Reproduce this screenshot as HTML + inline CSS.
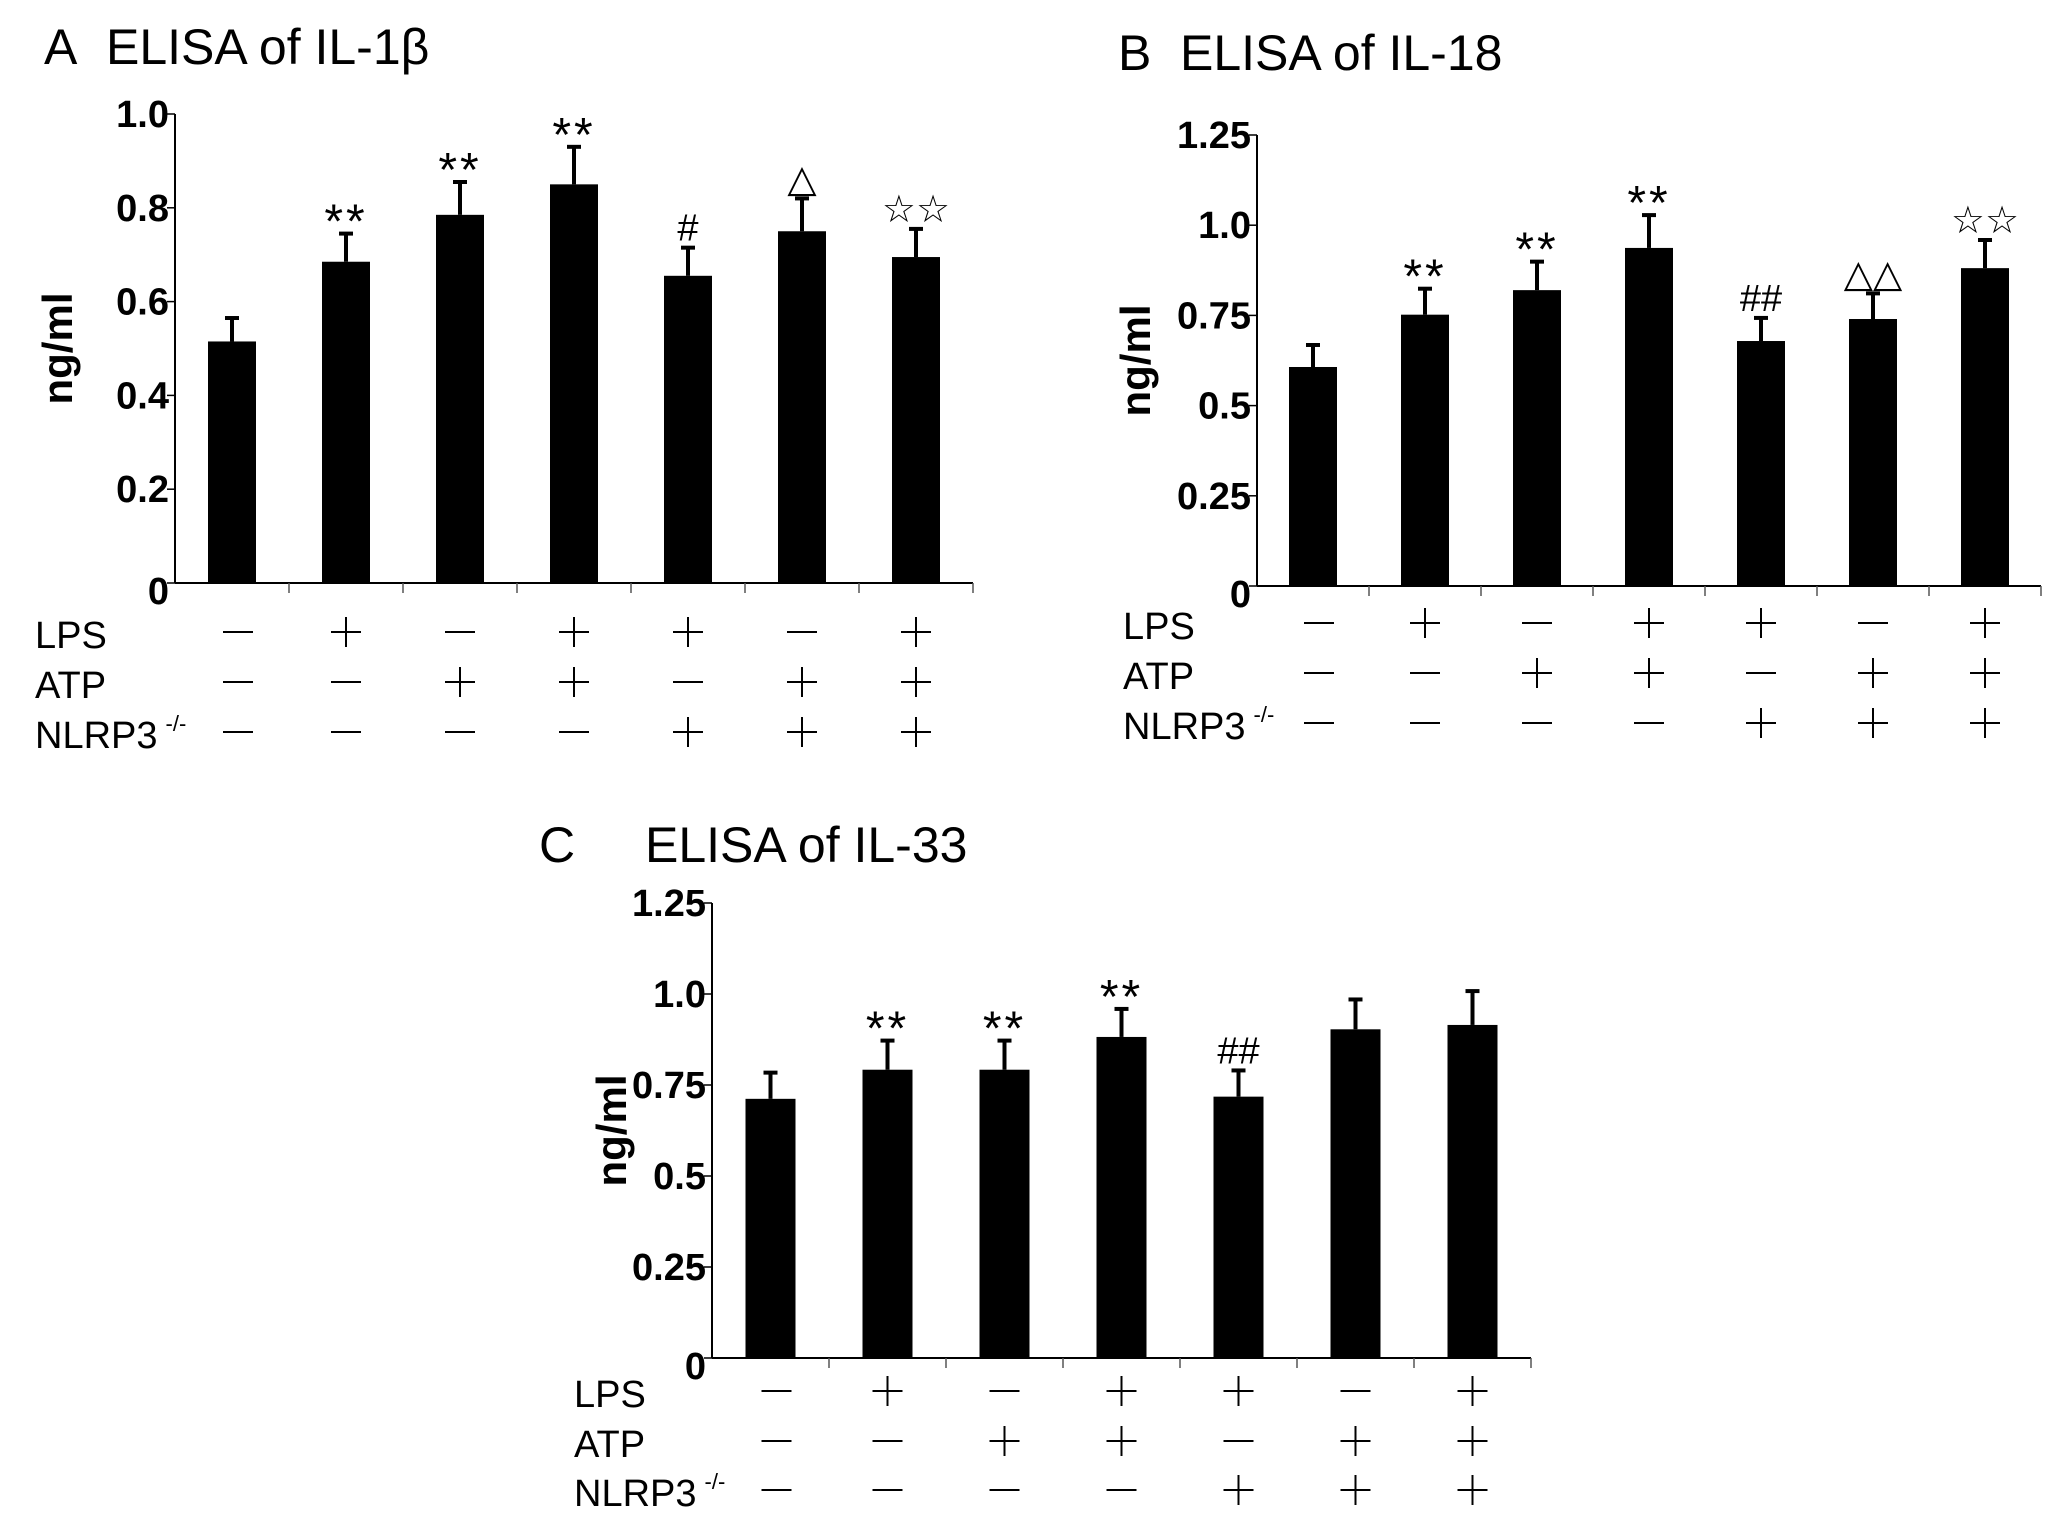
<!DOCTYPE html>
<html><head><meta charset="utf-8"><style>
html,body{margin:0;padding:0;background:#fff;overflow:hidden;}
svg{display:block;}
text{font-family:"Liberation Sans","DejaVu Sans",sans-serif;fill:#000;}
</style></head><body>
<svg id="fig" width="2067" height="1527" viewBox="0 0 2067 1527" xmlns="http://www.w3.org/2000/svg"></svg>
<script>
// ---- Data ----
const categories = ["G1","G2","G3","G4","G5","G6","G7"];
const lpsRow  = [0,1,0,1,1,0,1];
const atpRow  = [0,0,1,1,0,1,1];
const nlrpRow = [0,0,0,0,1,1,1];

const aValues = [0.515,0.685,0.785,0.85,0.655,0.75,0.695];
const aErrTop = [0.565,0.745,0.855,0.93,0.715,0.82,0.755];
const aMarks  = ["","**","**","**","#","△","☆☆"];
const aTicks  = [0,0.2,0.4,0.6,0.8,1.0];
const aTickLabels = ["0","0.2","0.4","0.6","0.8","1.0"];

const bValues = [0.607,0.752,0.82,0.937,0.679,0.74,0.881];
const bErrTop = [0.668,0.824,0.899,1.028,0.743,0.811,0.959];
const bMarks  = ["","**","**","**","##","△△","☆☆"];
const bTicks  = [0,0.25,0.5,0.75,1.0,1.25];
const bTickLabels = ["0","0.25","0.5","0.75","1.0","1.25"];

const cValues = [0.712,0.792,0.792,0.882,0.718,0.903,0.915];
const cErrTop = [0.784,0.872,0.872,0.959,0.79,0.985,1.008];
const cMarks  = ["","**","**","**","##","",""];
const cTicks  = [0,0.25,0.5,0.75,1.0,1.25];
const cTickLabels = ["0","0.25","0.5","0.75","1.0","1.25"];

const NS = "http://www.w3.org/2000/svg";
const svg = document.getElementById("fig");
function mk(tag, attrs, parent){
  const e = document.createElementNS(NS, tag);
  for (const k in attrs) e.setAttribute(k, attrs[k]);
  (parent||svg).appendChild(e);
  return e;
}
function txt(s, attrs, parent){ const t = mk("text", attrs, parent); t.textContent = s; return t; }

function drawPanel(cfg){
  const g = mk("g", {});
  
  
  const n = categories.length;
  const cw = (cfg.x1 - cfg.x0)/n;
  const yS = v => cfg.y0 - v/cfg.max * (cfg.y0 - cfg.yTop);
  const xC = i => cfg.x0 + cw*(i+0.5);

  cfg.titles.forEach(t=>{
    const e = txt(t.s, {x:t.x, y:t.y, "font-size":50}, g);
    
    
  });

  const ya = mk("line",{x1:cfg.x0,y1:cfg.yTop,x2:cfg.x0,y2:cfg.y0,stroke:"#000","stroke-width":2},g);
  
  
  const xa = mk("line",{x1:cfg.x0,y1:cfg.y0,x2:cfg.x1,y2:cfg.y0,stroke:"#000","stroke-width":2},g);
  
  
  for (let i=1;i<=n;i++){
    const xt = cfg.x0 + cw*i;
    const tk = mk("line",{x1:xt,y1:cfg.y0,x2:xt,y2:cfg.y0+10,stroke:"#555","stroke-width":1.5},g);
    
    
  }
  cfg.ticks.forEach((v,i)=>{
    const y = yS(v);
    const tk = mk("line",{x1:cfg.x0-8,y1:y,x2:cfg.x0,y2:y,stroke:"#000","stroke-width":1.5},g);
    
    
    const lab = txt(cfg.tickLabels[i], {x:cfg.x0-6, y:y+13+(i===0?8:0), "font-size":38, "font-weight":"bold", "text-anchor":"end"}, g);
    
    
  });
  const yl = txt("ng/ml", {x:0, y:0, "font-size":42, "font-weight":"bold", "text-anchor":"middle",
      transform:`translate(${cfg.ylx},${(cfg.yTop+cfg.y0)/2}) rotate(-90)`}, g);
  
  

  const bw = cfg.bw;
  cfg.values.forEach((v,i)=>{
    const cx = xC(i);
    const top = yS(v);
    const b = mk("rect",{x:cx-bw/2,y:top,width:bw,height:cfg.y0-top,fill:"#000"},g);
    
    
    const et = yS(cfg.err[i]);
    const el = mk("line",{x1:cx,y1:top,x2:cx,y2:et,stroke:"#000","stroke-width":4},g);
    
    
    const ec = mk("line",{x1:cx-7,y1:et,x2:cx+7,y2:et,stroke:"#000","stroke-width":4},g);
    
    
    if (cfg.marks[i]){
      const m = cfg.marks[i];
      const isStar = m.indexOf("*")>=0;
      const mt = txt(m, {x:cx, y: et + (isStar? 4 : -7), "font-size": isStar?48:38,
        "text-anchor":"middle", "font-family": isStar?"Liberation Serif, serif":"Liberation Sans, DejaVu Sans, sans-serif",
        "letter-spacing": isStar?"3":"0"}, g);
      
      
    }
  });

  const rows = [["LPS", lpsRow],["ATP", atpRow],["NLRP3", nlrpRow]];
  rows.forEach((r,ri)=>{
    const by = cfg.rowY[ri];
    const lab = txt(r[0], {x:cfg.labX, y:by, "font-size":38}, g);
    
    
    if (ri===2){
      const sp = mk("tspan",{"font-size":22,dy:-17,dx:8},lab); sp.textContent="-/-";
    }
    r[1].forEach((on,i)=>{
      const cx = xC(i)+ (i===0?6:0), cy = by-16;
      const mn = mk("line",{x1:cx-15,y1:cy,x2:cx+15,y2:cy,stroke:"#000","stroke-width":2},g);
      
      
      if (on){
        const vl = mk("line",{x1:cx,y1:cy-15,x2:cx,y2:cy+15,stroke:"#000","stroke-width":2},g);
        
        
      }
    });
  });
}

drawPanel({name:"panel-a-il1b", x0:175, x1:973, yTop:114, y0:583, max:1.0, bw:48,
  values:aValues, err:aErrTop, marks:aMarks, ticks:aTicks, tickLabels:aTickLabels,
  ylx:72, labX:35, rowY:[648,698,748],
  titles:[{s:"A", x:44, y:64},{s:"ELISA of IL-1β", x:106, y:64}]});
drawPanel({name:"panel-b-il18", x0:1257, x1:2041, yTop:135, y0:586, max:1.25, bw:48,
  values:bValues, err:bErrTop, marks:bMarks, ticks:bTicks, tickLabels:bTickLabels,
  ylx:1150, labX:1123, rowY:[639,689,739],
  titles:[{s:"B", x:1118, y:70},{s:"ELISA of IL-18", x:1180, y:70}]});
drawPanel({name:"panel-c-il33", x0:712, x1:1531, yTop:903, y0:1358, max:1.25, bw:50,
  values:cValues, err:cErrTop, marks:cMarks, ticks:cTicks, tickLabels:cTickLabels,
  ylx:626, labX:574, rowY:[1407,1457,1506],
  titles:[{s:"C", x:539, y:862},{s:"ELISA of IL-33", x:645, y:862}]});
</script>
</body></html>
